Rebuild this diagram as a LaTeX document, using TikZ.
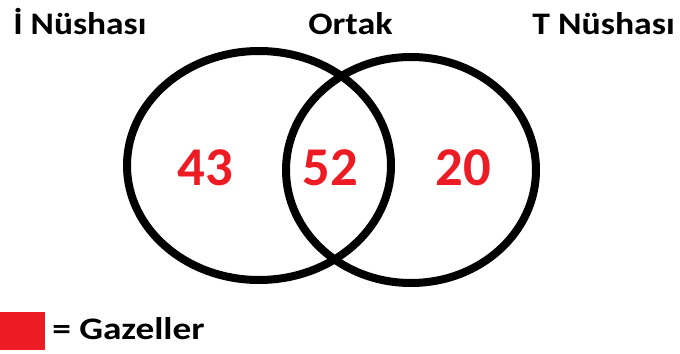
\documentclass[tikz,border=0pt]{standalone}
\usepackage{fontspec}
\setmainfont{Carlito}
\definecolor{vred}{HTML}{ED1C24}
\begin{document}
\begin{tikzpicture}[x=0.75pt,y=-0.75pt,
  ring/.style={draw=black,line width=6pt},
  title/.style={font=\bfseries\fontsize{23.5}{28}\selectfont,inner sep=0pt},
  num/.style={font=\bfseries\fontsize{41}{48}\selectfont,text=vred,inner sep=0pt},
  legend/.style={font=\bfseries\fontsize{23.5}{28}\selectfont,inner sep=0pt}]
\useasboundingbox (0,0) rectangle (680,353);
\draw[ring] (259,165.5) ellipse [x radius=132, y radius=114.5];
\draw[ring] (411,170) ellipse [x radius=125, y radius=113];
\node[title,anchor=base west] (ti) at (13,35) {\scalebox{1.13}[1]{İ Nüshası}};
\node[title,anchor=base west] (to) at (308,35) {\scalebox{1.15}[1]{Ortak}};
\node[title,anchor=base west] (tt) at (532,35) {\scalebox{1.14}[1]{T Nüshası}};
\node[num,anchor=base] (n1) at (205.5,185) {43};
\node[num,anchor=base] (n2) at (330,185) {52};
\node[num,anchor=base] (n3) at (463.5,185) {20};
\node[fill=vred,inner sep=0pt,minimum width=33.75pt,minimum height=28.5pt,anchor=north west] (sq) at (0,312) {};
\node[legend,anchor=base west] (lg) at (52,339) {\scalebox{1.19}[1]{= Gazeller}};
\end{tikzpicture}
\end{document}
